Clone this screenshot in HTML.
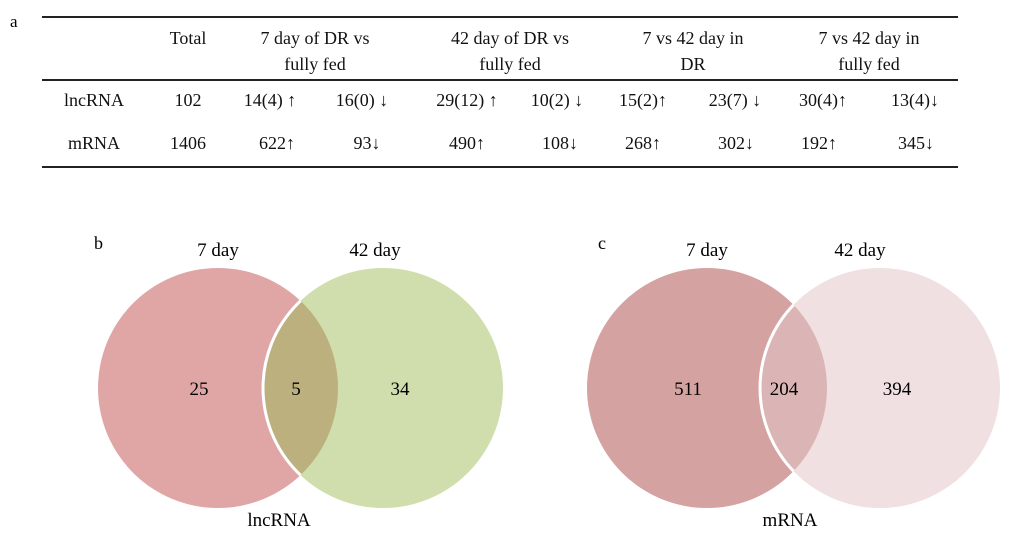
<!DOCTYPE html>
<html><head><meta charset="utf-8"><style>
html,body{margin:0;padding:0;background:#fff;}
svg{display:block;font-family:"Liberation Serif",serif;}
</style></head><body>
<svg id="fig" width="1020" height="543" viewBox="0 0 1020 543">
<text x="10" y="27" font-size="17">a</text>
<line x1="42" y1="17" x2="958" y2="17" stroke="#222" stroke-width="2"/>
<line x1="42" y1="80" x2="958" y2="80" stroke="#222" stroke-width="2"/>
<line x1="42" y1="167" x2="958" y2="167" stroke="#222" stroke-width="2"/>
<g id="table" font-size="18" text-anchor="middle" fill="#111"></g>
<g id="venns"></g>
</svg>
<script>
const headers1 = ["Total","7 day of DR vs","42 day of DR vs","7 vs 42 day in","7 vs 42 day in"];
const headers2 = ["","fully fed","fully fed","DR","fully fed"];
const rowNames = ["lncRNA","mRNA"];
const totals = ["102","1406"];
const lncValues = ["14(4) ↑","16(0) ↓","29(12) ↑","10(2) ↓","15(2)↑","23(7) ↓","30(4)↑","13(4)↓"];
const mrnaValues = ["622↑","93↓","490↑","108↓","268↑","302↓","192↑","345↓"];
const vennLabels = ["b","c"];
const vennTitles = ["lncRNA","mRNA"];
const vennLeftOnly = [25,511];
const vennShared = [5,204];
const vennRightOnly = [34,394];

const NS="http://www.w3.org/2000/svg";
function mk(tag,attrs,parent,txt){const e=document.createElementNS(NS,tag);for(const k in attrs)e.setAttribute(k,attrs[k]);if(txt!==undefined)e.textContent=txt;parent.appendChild(e);return e;}

const tbl=document.getElementById('table');
const hx=[188,315,510,693,869];
headers1.forEach((h,i)=>{
  const t=mk('text',{x:hx[i],y:44},tbl,h);
  
  
  if(headers2[i]){const t2=mk('text',{x:hx[i],y:70},tbl,headers2[i]);
  
  }
});
const rowY=[106,149];
const lncX=[270,362,467,557,643,735,823,915];
const mX=[277,367,467,560,643,736,819,916];
const rows=[lncValues,mrnaValues];
rowNames.forEach((r,ri)=>{
  const t=mk('text',{x:94,y:rowY[ri]},tbl,r);
  
  
  const tt=mk('text',{x:188,y:rowY[ri]},tbl,totals[ri]);
  
  
  const xs=ri===0?lncX:mX;
  rows[ri].forEach((v,ci)=>{
    const c=mk('text',{x:xs[ci],y:rowY[ri]},tbl,v);
    
    
  });
});

const venns=document.getElementById('venns');
const layout=[
 {lx:218,rx:383,cy:388,r:120,cl:"#e0a6a6",cr:"#cfdeac",co:"#bcb07f",lab:[94,249],t7:218,t42:375,tt:279,nx:[199,296,400]},
 {lx:707,rx:880,cy:388,r:120,cl:"#d5a2a2",cr:"#f1e0e1",co:"#dbb5b5",lab:[598,249],t7:707,t42:860,tt:790,nx:[688,784,897]}
];
layout.forEach((L,i)=>{
  const g=mk('g',{},venns);
  
  
  const id='clip'+i;
  const defs=mk('defs',{},g);
  const cp=mk('clipPath',{id:id},defs);
  mk('circle',{cx:L.lx,cy:L.cy,r:L.r},cp);
  const a=mk('circle',{cx:L.lx,cy:L.cy,r:L.r,fill:L.cl},g);
  
  
  const b=mk('circle',{cx:L.rx,cy:L.cy,r:L.r,fill:L.cr},g);
  
  
  const o=mk('circle',{cx:L.rx,cy:L.cy,r:L.r,fill:L.co,stroke:"#fff","stroke-width":3,"clip-path":"url(#"+id+")"},g);
  
  
  const lb=mk('text',{x:L.lab[0],y:L.lab[1],"font-size":18},g,vennLabels[i]);
  
  
  const s1=mk('text',{x:L.t7,y:256,"font-size":19,"text-anchor":"middle"},g,"7 day");
  
  
  const s2=mk('text',{x:L.t42,y:256,"font-size":19,"text-anchor":"middle"},g,"42 day");
  
  
  const tt=mk('text',{x:L.tt,y:526,"font-size":19,"text-anchor":"middle"},g,vennTitles[i]);
  
  
  const vals=[vennLeftOnly[i],vennShared[i],vennRightOnly[i]];
  const nm=['count-7-day-only','count-shared','count-42-day-only'];
  vals.forEach((v,k)=>{
    const n=mk('text',{x:L.nx[k],y:395,"font-size":19,"text-anchor":"middle"},g,String(v));
    
    
  });
});
</script>
</body></html>
